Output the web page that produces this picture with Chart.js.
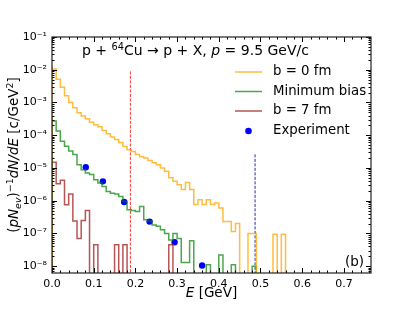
<!DOCTYPE html>
<html>
<head>
<meta charset="utf-8">
<script src="https://cdn.jsdelivr.net/npm/chart.js@4.4.0/dist/chart.umd.min.js"></script>
<style>
  html, body { margin: 0; padding: 0; background: #fff; }
</style>
</head>
<body>
<canvas id="myChart" width="412" height="309"></canvas>
<script>
// bin edges of the E histograms [GeV]
const binEdges = [0.00, 0.01, 0.02, 0.03, 0.04, 0.05, 0.06, 0.07, 0.08, 0.09,
  0.10, 0.11, 0.12, 0.13, 0.14, 0.15, 0.16, 0.17, 0.18, 0.19,
  0.20, 0.21, 0.22, 0.23, 0.24, 0.25, 0.26, 0.27, 0.28, 0.29,
  0.30, 0.31, 0.32, 0.33, 0.34, 0.35, 0.36, 0.37, 0.38, 0.39,
  0.40, 0.41, 0.42, 0.43, 0.44, 0.45, 0.46, 0.47, 0.48, 0.49,
  0.50, 0.51, 0.52, 0.53, 0.54, 0.55, 0.56, 0.57, 0.58, 0.59, 0.60];

// b = 0 fm
const central = [1.3e-2, 1.05e-2, 5.1e-3, 2.9e-3, 1.6e-3, 1.0e-3, 6.9e-4, 4.9e-4, 3.9e-4, 3.2e-4,
  2.5e-4, 2.1e-4, 1.8e-4, 1.4e-4, 1.1e-4, 8.9e-5, 7.4e-5, 6.0e-5, 4.5e-5, 3.6e-5,
  3.2e-5, 2.6e-5, 2.2e-5, 2.0e-5, 1.7e-5, 1.45e-5, 1.25e-5, 1.0e-5, 8.0e-6, 5.0e-6,
  3.9e-6, 3.1e-6, 2.2e-6, 3.6e-6, 2.2e-6, 7.6e-7, 1.07e-6, 7.6e-7, 1.07e-6, 7.6e-7,
  8.5e-7, 6.0e-7, 2.3e-7, 2.3e-7, 1.15e-7, 2.0e-7, 0, 0, 1.0e-7, 1.0e-7,
  0, 0, 0, 0, 9.5e-8, 0, 9.5e-8, 0, 0, 0];

// minimum bias
const minBias = [3.7e-4, 2.7e-4, 1.35e-4, 6.6e-5, 4.6e-5, 3.3e-5, 2.6e-5, 1.26e-5, 8.8e-6, 7.0e-6,
  6.3e-6, 4.4e-6, 3.5e-6, 2.7e-6, 1.9e-6, 1.7e-6, 1.6e-6, 1.35e-6, 9.5e-7, 5.3e-7,
  5.0e-7, 4.7e-7, 6.7e-7, 2.6e-7, 2.4e-7, 1.8e-7, 1.65e-7, 1.3e-7, 1.0e-7, 6.3e-8,
  1.0e-7, 7.0e-8, 1.3e-8, 1.3e-8, 6.0e-8, 0, 0, 0, 1.1e-8, 0,
  0, 2.2e-8, 0, 0, 1.1e-8, 0, 0, 0, 0, 1.0e-8,
  0, 0, 0, 0, 0, 0, 0, 0, 0, 0];

// b = 7 fm
const peripheral = [2.2e-5, 1.5e-5, 3.3e-6, 4.2e-6, 7.5e-7, 1.6e-6, 2.4e-7, 7.0e-8, 2.5e-7, 5.0e-7,
  0, 4.5e-8, 0, 0, 0, 0, 4.5e-8, 0, 4.5e-8, 0,
  0, 0, 0, 0, 0, 0, 0, 0, 0, 4.5e-8,
  0, 0, 0, 0, 0, 0, 0, 0, 0, 0,
  0, 0, 0, 0, 0, 0, 0, 0, 0, 0,
  0, 0, 0, 0, 0, 0, 0, 0, 0, 0];

// experiment points
const expEnergy = [0.081, 0.122, 0.173, 0.234, 0.294, 0.360];
const expValue = [1.05e-5, 3.9e-6, 9.1e-7, 2.3e-7, 5.4e-8, 1.05e-8];

// vertical dashed markers
const cutEnergy = [0.188, 0.487];
const cutTop = [8.9e-3, 2.6e-5];

const xTicks = [0.0, 0.1, 0.2, 0.3, 0.4, 0.5, 0.6, 0.7];
const yTicks = [1e-8, 1e-7, 1e-6, 1e-5, 1e-4, 1e-3, 1e-2, 1e-1];
const xMin = 0, xMax = 0.765, yMin = 6.2e-9, yMax = 0.1;

const FLOOR = 1e-12; // empty bins drawn below the axis
const FONT = "'DejaVu Sans', sans-serif";

function stepData(vals) {
  var pts = [{ x: binEdges[0], y: FLOOR }];
  vals.forEach((v, i) => pts.push({ x: binEdges[i], y: v > 0 ? v : FLOOR }));
  pts.push({ x: binEdges[vals.length], y: FLOOR });
  return pts;
}

function cutData(i) {
  return [{ x: cutEnergy[i], y: cutTop[i] }, { x: cutEnergy[i], y: FLOOR }];
}

const SUP = { "-": "\u207B", "0": "\u2070", "1": "\u00B9", "2": "\u00B2", "3": "\u00B3",
  "4": "\u2074", "5": "\u2075", "6": "\u2076", "7": "\u2077", "8": "\u2078", "9": "\u2079" };
function sup(n) {
  return String(n).split("").map((c) => SUP[c]).join("");
}

// draws a list of text pieces: {t, it, sup, sub}
function richText(ctx, parts, x, y, size) {
  var cx = x;
  parts.forEach((p) => {
    var s = p.sup || p.sub ? size * 0.7 : size;
    ctx.font = (p.it ? "italic " : "") + s + "px " + FONT;
    var dy = p.sup ? -size * 0.38 : p.sub ? size * 0.22 : 0;
    ctx.fillText(p.t, cx, y + dy);
    cx += ctx.measureText(p.t).width;
  });
  return cx - x;
}
function richWidth(ctx, parts, size) {
  var w = 0;
  parts.forEach((p) => {
    var s = p.sup || p.sub ? size * 0.7 : size;
    ctx.font = (p.it ? "italic " : "") + s + "px " + FONT;
    w += ctx.measureText(p.t).width;
  });
  return w;
}

const yTitle = [
  { t: "(" }, { t: "pN", it: true }, { t: "ev", it: true, sub: true }, { t: ")" },
  { t: "\u22121", sup: true }, { t: "dN/dE", it: true }, { t: " [c/GeV" }, { t: "2", sup: true }, { t: "]" }
];
const xTitle = [{ t: "E", it: true }, { t: " [GeV]" }];
const reaction = [
  { t: "p + " }, { t: "64", sup: true }, { t: "Cu \u2192 p + X, " }, { t: "p", it: true }, { t: " = 9.5 GeV/c" }
];

// frame, inward ticks, titles, legend
const decorations = {
  id: "decorations",
  afterDraw(chart) {
    const { ctx, chartArea: a, scales } = chart;
    const x = scales.x, y = scales.y;
    ctx.save();
    ctx.strokeStyle = "#000";
    ctx.lineWidth = 1;
    ctx.beginPath();
    // x ticks, major every 0.1, minor every 0.02
    for (var k = 0; k <= 38; k++) {
      var v = k / 50;
      if (v > xMax) break;
      var px = Math.round(x.getPixelForValue(v)) + 0.5;
      var len = k % 5 === 0 ? 5 : 2.5;
      ctx.moveTo(px, a.bottom); ctx.lineTo(px, a.bottom - len);
      ctx.moveTo(px, a.top); ctx.lineTo(px, a.top + len);
    }
    // y ticks, decades and 2..9 minor
    for (var d = -9; d <= -1; d++) {
      for (var m = 1; m <= 9; m++) {
        var val = m * Math.pow(10, d);
        if (val < yMin || val > yMax * 1.0001) continue;
        var py = Math.round(y.getPixelForValue(val)) + 0.5;
        var l = m === 1 ? 5 : 2.5;
        ctx.moveTo(a.left, py); ctx.lineTo(a.left + l, py);
        ctx.moveTo(a.right, py); ctx.lineTo(a.right - l, py);
      }
    }
    ctx.stroke();
    ctx.lineWidth = 1.2;
    ctx.strokeStyle = "#222";
    ctx.strokeRect(a.left, a.top, a.right - a.left, a.bottom - a.top);

    ctx.fillStyle = "#000";
    ctx.textBaseline = "alphabetic";
    ctx.textAlign = "left";
    // axis titles
    var size = 13.5;
    var w = richWidth(ctx, xTitle, size);
    richText(ctx, xTitle, (a.left + a.right) / 2 - w / 2, 297, size);
    ctx.save();
    ctx.translate(18, (a.top + a.bottom) / 2);
    ctx.rotate(-Math.PI / 2);
    w = richWidth(ctx, yTitle, size);
    richText(ctx, yTitle, -w / 2, 0, size);
    ctx.restore();
    // reaction label and panel tag
    richText(ctx, reaction, 82, 55, 14);
    ctx.font = "13.5px " + FONT;
    ctx.fillText("(b)", 345, 266);

    // legend
    const rows = [72, 91.5, 111, 131];
    ctx.font = "13.3px " + FONT;
    ctx.textBaseline = "middle";
    chart.data.datasets.slice(0, 4).forEach((ds, i) => {
      if (ds.showLine === false) {
        ctx.fillStyle = ds.pointBackgroundColor;
        ctx.beginPath();
        ctx.arc(248.5, rows[i], 3.3, 0, Math.PI * 2);
        ctx.fill();
      } else {
        ctx.strokeStyle = ds.borderColor;
        ctx.lineWidth = ds.borderWidth;
        ctx.beginPath();
        ctx.moveTo(235, rows[i]); ctx.lineTo(262, rows[i]);
        ctx.stroke();
      }
      ctx.fillStyle = "#000";
      ctx.fillText(ds.label, 273, rows[i]);
    });
    ctx.restore();
  }
};

const ctx = document.getElementById("myChart").getContext("2d");

const histStyle = { stepped: "after", fill: false, pointRadius: 0, borderWidth: 1.5, clip: 0 };

const chart = new Chart(ctx, {
  type: "line",
  data: {
    datasets: [
      Object.assign({ label: "b = 0 fm", data: stepData(central), borderColor: "rgba(255,165,0,0.75)" }, histStyle),
      Object.assign({ label: "Minimum bias", data: stepData(minBias), borderColor: "rgba(0,128,0,0.7)" }, histStyle),
      Object.assign({ label: "b = 7 fm", data: stepData(peripheral), borderColor: "rgba(165,42,42,0.8)" }, histStyle),
      {
        label: "Experiment",
        data: expEnergy.map((e, i) => ({ x: e, y: expValue[i] })),
        showLine: false,
        pointRadius: 3.2,
        pointBackgroundColor: "#0000ff",
        pointBorderColor: "#0000ff",
        pointBorderWidth: 0,
        clip: 0,
      },
      {
        label: "cut1",
        data: cutData(0),
        borderColor: "rgba(255,0,0,0.8)",
        borderWidth: 1,
        borderDash: [3, 1.5],
        pointRadius: 0,
        clip: 0,
      },
      {
        label: "cut2",
        data: cutData(1),
        borderColor: "rgba(0,0,139,0.85)",
        borderWidth: 1,
        borderDash: [3, 1.5],
        pointRadius: 0,
        clip: 0,
      },
    ],
  },
  options: {
    responsive: false,
    animation: false,
    devicePixelRatio: 1,
    layout: { padding: { left: 0, right: 41, top: 37, bottom: 0 } },
    plugins: { legend: { display: false }, tooltip: { enabled: false } },
    scales: {
      x: {
        type: "linear",
        min: xMin,
        max: xMax,
        grid: { display: false, drawTicks: false },
        border: { display: false },
        afterBuildTicks: (s) => { s.ticks = xTicks.map((v) => ({ value: v })); },
        afterFit: (s) => { s.height = 36; },
        ticks: {
          padding: 5,
          color: "#000",
          font: { family: FONT, size: 11 },
          maxRotation: 0,
          callback: (v) => Number(v).toFixed(1),
        },
      },
      y: {
        type: "logarithmic",
        min: yMin,
        max: yMax,
        grid: { display: false, drawTicks: false },
        border: { display: false },
        afterBuildTicks: (s) => { s.ticks = yTicks.map((v) => ({ value: v })); },
        afterFit: (s) => { s.width = 52; },
        ticks: {
          padding: 5,
          color: "#000",
          font: { family: FONT, size: 11 },
          callback: (v) => "10" + sup(Math.round(Math.log10(v))),
        },
      },
    },
  },
  plugins: [decorations],
});
</script>
</body>
</html>
